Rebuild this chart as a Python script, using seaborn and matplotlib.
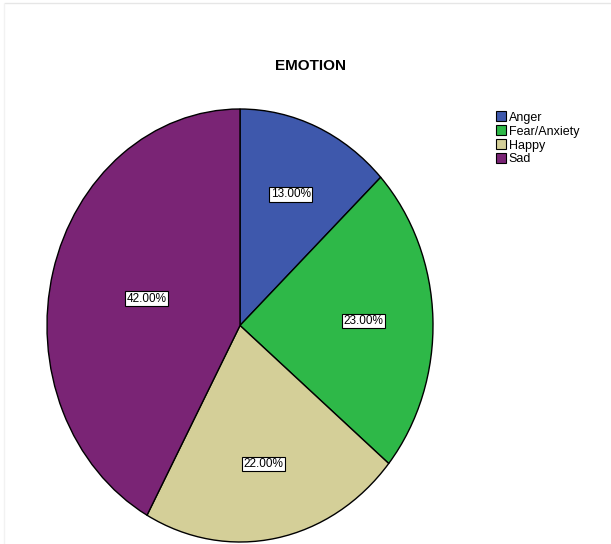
import matplotlib
matplotlib.use("Agg")
import matplotlib.pyplot as plt
import seaborn as sns
from matplotlib.patches import Patch
from matplotlib.lines import Line2D

categories = ["Anger", "Fear/Anxiety", "Happy", "Sad"]
values = [13.0, 23.0, 22.0, 42.0]
colors = ["#3e58ac", "#2eb848", "#d4cf98", "#7a2475"]
title = "EMOTION"
label_dist = [0.66, 0.64, 0.65, 0.50]

sns.set_theme(style="white")
plt.rcParams["font.family"] = ["Liberation Sans Narrow", "Liberation Sans", "DejaVu Sans"]
plt.rcParams["text.color"] = "black"
palette = sns.color_palette(colors)

W, H = 611, 544
fig = plt.figure(figsize=(W / 100, H / 100), dpi=100)
fig.patch.set_facecolor("white")

# faint frame lines (top and left)
fig.add_artist(Line2D([5 / W, 1.0], [1 - 3 / H, 1 - 3 / H], color="#e6e6e6", lw=1))
fig.add_artist(Line2D([4 / W, 4 / W], [0, 1 - 3 / H], color="#f2f2f2", lw=1))

cx, cy, rx, ry = 240, 325.5, 193, 216.5
ax = fig.add_axes([(cx - rx) / W, 1 - (cy + ry) / H, 2 * rx / W, 2 * ry / H])
wedges, texts, autotexts = ax.pie(
    values, colors=palette, startangle=90, counterclock=False,
    autopct=lambda p: f"{p:.2f}%", pctdistance=0.65,
    wedgeprops=dict(edgecolor="black", linewidth=1.0),
    textprops=dict(fontsize=8.5, color="black"),
)
ax.set_aspect("auto")
ax.set_xlim(-1, 1)
ax.set_ylim(-1, 1)
ax.axis("off")
for t, d in zip(autotexts, label_dist):
    x, y = t.get_position()
    t.set_position((x / 0.65 * d, y / 0.65 * d))
    t.set_bbox(dict(boxstyle="square,pad=0.1", facecolor="white", edgecolor="black", linewidth=0.8))

fig.text(310 / W, 1 - 66 / H, title, ha="center", va="center", fontsize=11,
         fontweight="bold", color="black", family=["Liberation Sans", "DejaVu Sans"])

handles = [Patch(facecolor=c, edgecolor="black", linewidth=0.8, label=l) for c, l in zip(palette, categories)]
fig.legend(handles=handles, loc="upper left", bbox_to_anchor=(496 / W, 1 - 111 / H),
           frameon=False, fontsize=9, handlelength=0.8, handleheight=0.9,
           handletextpad=0.2, labelspacing=0.12, borderpad=0, borderaxespad=0,
           labelcolor="black")

fig.savefig("out.png", dpi=100, facecolor="white")
